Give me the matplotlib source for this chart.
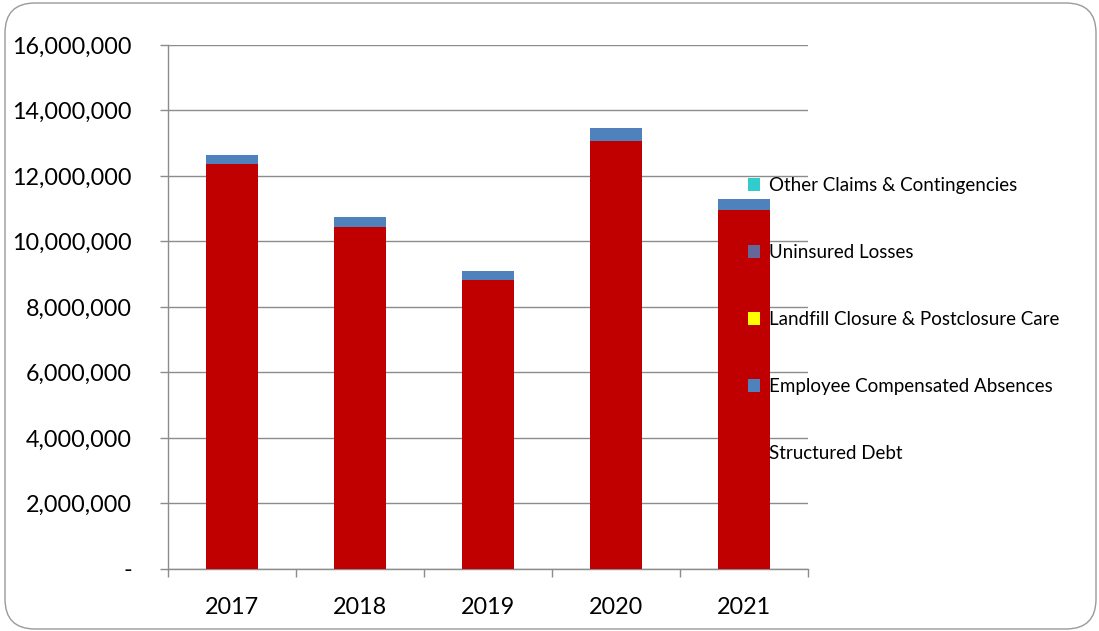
import numpy as np
import matplotlib.pyplot as plt
from matplotlib.patches import FancyBboxPatch, Patch
from matplotlib.transforms import IdentityTransform
from matplotlib.ticker import FuncFormatter

plt.rcParams['font.family'] = ['Lato', 'DejaVu Sans']

years = ['2017', '2018', '2019', '2020', '2021']
structured_debt = [12360000, 10440000, 8810000, 13060000, 10950000]
comp_absences = [290000, 320000, 300000, 390000, 350000]
landfill = [0, 0, 0, 0, 0]
uninsured = [0, 0, 0, 0, 0]
other_claims = [0, 0, 0, 0, 0]

series = [
    ('Structured Debt', structured_debt, '#C00000'),
    ('Employee Compensated Absences', comp_absences, '#4F81BD'),
    ('Landfill Closure & Postclosure Care', landfill, '#FFFF00'),
    ('Uninsured Losses', uninsured, '#666699'),
    ('Other Claims & Contingencies', other_claims, '#33CCCC'),
]

fig = plt.figure(figsize=(10.99, 6.31), dpi=100)
ax = fig.add_axes([0.1529, 0.0983, 0.5823, 0.8304])

# rounded outline around the whole chart area (pixel units)
fig.patches.append(FancyBboxPatch((5, 2), 1091, 626,
                                  boxstyle='round,pad=0,rounding_size=30',
                                  transform=IdentityTransform(), fill=False,
                                  edgecolor='#9a9a9a', linewidth=1.0))

x = np.arange(len(years))
bottom = np.zeros(len(years))
handles = []
for name, vals, col in series:
    ax.bar(x, vals, width=0.4, bottom=bottom, color=col, zorder=3)
    bottom += np.array(vals)
    if name == 'Structured Debt':
        handles.append(Patch(facecolor='none', edgecolor='none', label=name))
    else:
        handles.append(Patch(facecolor=col, edgecolor='none', label=name))

ax.set_xlim(-0.5, len(years) - 0.5)
ax.set_ylim(0, 16000000)
ax.set_yticks(np.arange(0, 16000001, 2000000))
ax.yaxis.set_major_formatter(FuncFormatter(lambda v, p: '-' if v == 0 else f'{int(v):,}'))
ax.grid(axis='y', color='#8c8c8c', linewidth=1.0, zorder=0)

ax.set_xticks(x)
ax.set_xticklabels(years)
ax.set_xticks(np.arange(-0.5, len(years)), minor=True)
ax.tick_params(axis='x', which='major', length=0, pad=20, labelsize=16.8)
ax.tick_params(axis='x', which='minor', length=6, color='#8c8c8c', width=1.0)
ax.tick_params(axis='y', length=6, color='#8c8c8c', width=1.0, pad=20, labelsize=16.8)

for s in ['top', 'right']:
    ax.spines[s].set_visible(False)
for s in ['left', 'bottom']:
    ax.spines[s].set_color('#8c8c8c')
    ax.spines[s].set_linewidth(1.0)

leg = fig.legend(handles=handles[::-1], loc='upper left',
                 bbox_to_anchor=(0.674, 0.731), frameon=False,
                 fontsize=13.5, labelspacing=2.66, handlelength=0.65,
                 handleheight=0.65, handletextpad=0.45, borderaxespad=0)
leg.set_zorder(5)

fig.savefig('out.png', dpi=100)
